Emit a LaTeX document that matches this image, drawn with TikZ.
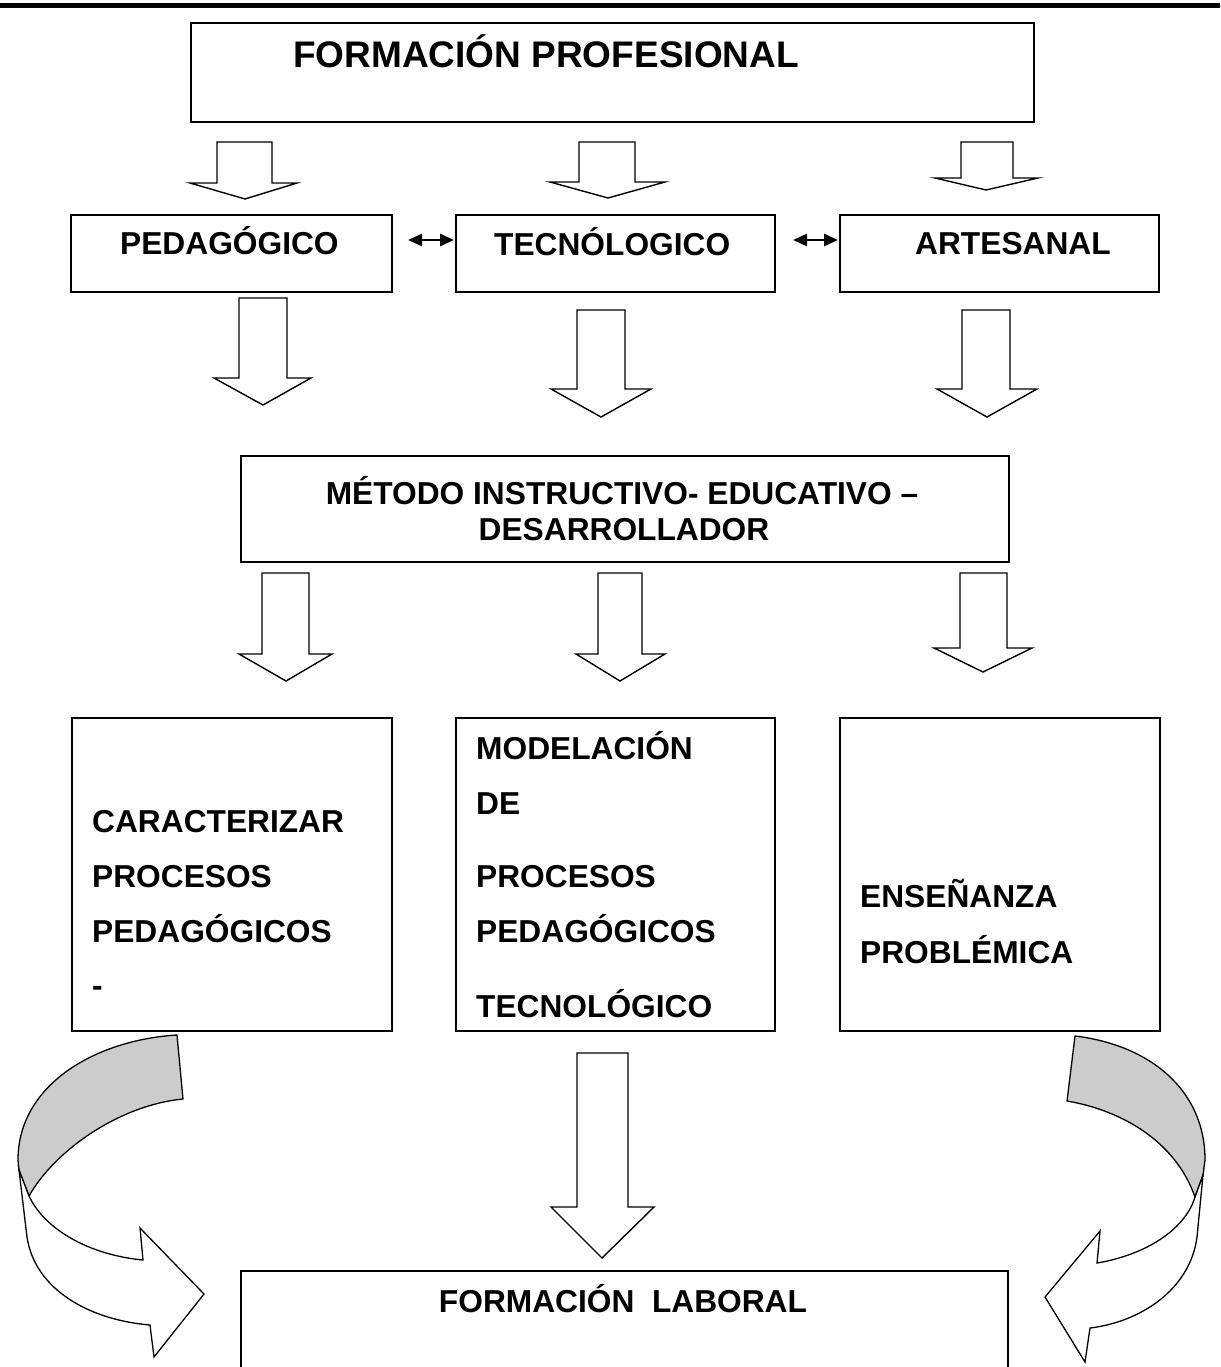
\documentclass[tikz,border=0pt]{standalone}
\usepackage{fontspec}
\setmainfont{Liberation Sans}
\usetikzlibrary{arrows.meta}
% block arrow: shaftL, shaftR, top, base, headL, headR, tipx, tipy
\newcommand\blkarrow[8]{\draw[blk] (#1,#3) -- (#2,#3) -- (#2,#4) -- (#6,#4) -- (#7,#8) -- (#5,#4) -- (#1,#4) -- cycle;}
\begin{document}
\begin{tikzpicture}[x=1pt,y=-1pt,
  box/.style={draw, line width=1.6pt, inner sep=0pt, anchor=north west},
  blk/.style={draw, line width=1.4pt, fill=white, line join=miter},
  lbl/.style={inner sep=0pt, font=\bfseries\fontsize{31.7}{38}\selectfont},
  ttl/.style={inner sep=0pt, font=\bfseries\fontsize{37}{44}\selectfont},
  dbl/.style={line width=2.6pt, {Triangle[length=14pt,width=12pt]}-{Triangle[length=14pt,width=12pt]}},
  curv/.style={draw, line width=1.3pt, line join=miter}]
\useasboundingbox (0,0) rectangle (1220,1367);
% top rule
\draw[line width=4.5pt] (0,5.5) -- (1220,5.5);
% boxes
\node[box, minimum width=843pt, minimum height=99pt] (fp) at (190,22) {};
\node[box, minimum width=321pt, minimum height=77pt] (ped) at (70,214) {};
\node[box, minimum width=319pt, minimum height=77pt] (tec) at (455,214) {};
\node[box, minimum width=319pt, minimum height=77pt] (art) at (839,214) {};
\node[box, minimum width=768pt, minimum height=106pt] (met) at (240,455) {};
\node[box, minimum width=320pt, minimum height=313pt] (car) at (71,717) {};
\node[box, minimum width=319pt, minimum height=313pt] (mod) at (455,717) {};
\node[box, minimum width=320pt, minimum height=313pt] (ens) at (839,717) {};
\node[box, minimum width=767pt, minimum height=99pt] (fl) at (240,1270) {};
% texts
\node[ttl, anchor=base west] (tfp) at (293,68) {FORMACIÓN PROFESIONAL};
\node[lbl, anchor=base west] (tped) at (120,254) {PEDAGÓGICO};
\node[lbl, anchor=base west] (ttec) at (494,255) {TECNÓLOGICO};
\node[lbl, anchor=base west] (tart) at (915,254) {ARTESANAL};
\node[lbl, anchor=base] (tmet1) at (622,504) {MÉTODO INSTRUCTIVO- EDUCATIVO –};
\node[lbl, anchor=base] (tmet2) at (624,540) {DESARROLLADOR};
\node[lbl, anchor=base west] (c1) at (92,832) {CARACTERIZAR};
\node[lbl, anchor=base west] (c2) at (92,887) {PROCESOS};
\node[lbl, anchor=base west] (c3) at (92,942) {PEDAGÓGICOS};
\node[lbl, anchor=base west] (c4) at (92,996) {-};
\node[lbl, anchor=base west] (m1) at (476,759) {MODELACIÓN};
\node[lbl, anchor=base west] (m2) at (476,814) {DE};
\node[lbl, anchor=base west] (m3) at (476,887) {PROCESOS};
\node[lbl, anchor=base west] (m4) at (476,942) {PEDAGÓGICOS};
\node[lbl, anchor=base west] (m5) at (476,1017) {TECNOLÓGICO};
\node[lbl, anchor=base west] (e1) at (860,907) {ENSEÑANZA};
\node[lbl, anchor=base west] (e2) at (860,963) {PROBLÉMICA};
\node[lbl, anchor=base] (tfl) at (623,1312) {FORMACIÓN\ \ LABORAL};
% double arrows between second-row boxes
\coordinate (d1) at (408,240);
\coordinate (d2) at (793,240);
\draw[dbl] (d1) -- ([xshift=-1pt]tec.west |- d1);
\draw[dbl] (d2) -- ([xshift=-1pt]art.west |- d2);
% block arrows row 1
\blkarrow{217}{272}{142}{183}{190}{297}{245}{199}
\blkarrow{579}{635}{142}{182}{550}{665}{608}{198}
\blkarrow{961}{1013}{142}{178}{935}{1038}{986}{190}
% row 2
\blkarrow{239}{287}{298}{378}{214}{311}{263}{405}
\blkarrow{577}{625}{310}{389}{551}{651}{601}{417}
\blkarrow{962}{1010}{310}{389}{937}{1037}{987}{417}
% row 3
\blkarrow{262}{309}{573}{654}{239}{332}{286}{681}
\blkarrow{598}{642}{573}{654}{576}{665}{620}{681}
\blkarrow{960}{1007}{573}{648}{934}{1032}{983}{672}
% row 4 middle
\blkarrow{577}{628}{1053}{1207}{551}{654}{602}{1258}
% left curved arrow
\path[curv, fill=black!20] (177,1035) .. controls (95,1040) and (18,1085) .. (18,1160) -- (19,1170) -- (29,1196) .. controls (55,1150) and (120,1105) .. (183,1099) -- cycle;
\path[curv, fill=white] (19,1170) -- (27,1237) .. controls (35,1290) and (90,1320) .. (150,1325) -- (154,1357) -- (204,1294) -- (140,1228) -- (143,1260) .. controls (90,1255) and (45,1230) .. (29,1196) -- cycle;
% right curved arrow
\path[curv, fill=black!20] (1075,1036) .. controls (1150,1045) and (1205,1090) .. (1205,1160) -- (1203,1175) -- (1195,1197) .. controls (1175,1140) and (1120,1110) .. (1067,1101) -- cycle;
\path[curv, fill=white] (1203,1175) -- (1197,1237) .. controls (1190,1290) and (1140,1322) .. (1090,1328) -- (1085,1362) -- (1045,1297) -- (1100,1231) -- (1097,1263) .. controls (1145,1255) and (1185,1230) .. (1195,1197) -- cycle;
\end{tikzpicture}
\end{document}
